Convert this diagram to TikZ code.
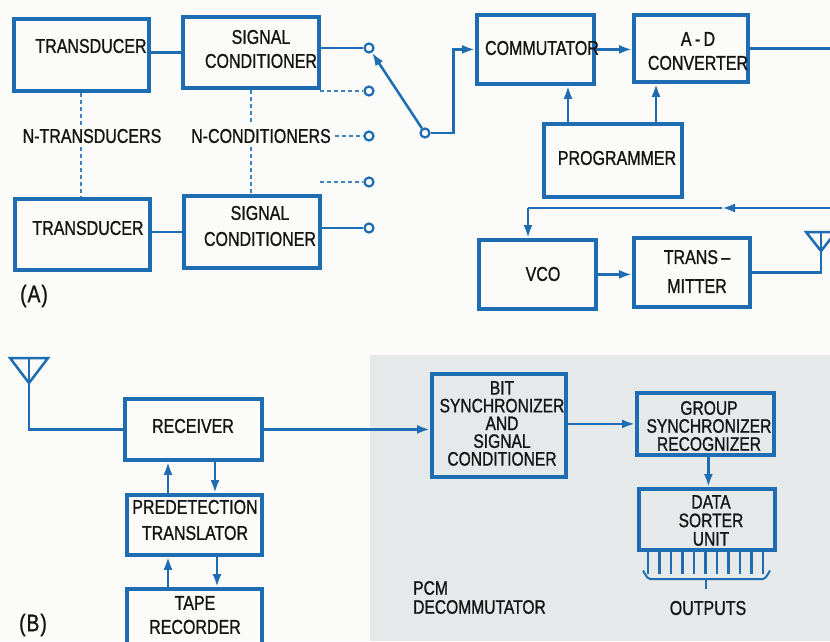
\documentclass[tikz,border=0pt]{standalone}
\usepackage{fontspec}
\setmainfont{Liberation Sans}[FakeStretch=0.8,FakeBold=1]
\usetikzlibrary{arrows.meta,calc}
\definecolor{ln}{RGB}{30,108,178}
\definecolor{txt}{RGB}{20,20,20}
\definecolor{bg}{RGB}{251,251,249}
\definecolor{panel}{RGB}{229,233,233}
\tikzset{
  box/.style={draw=ln, line width=3.8pt, rectangle, inner sep=0pt, anchor=north west},
  lbl/.style={text=txt, font=\fontsize{20}{23}\selectfont, align=center, inner sep=0pt},
  conn/.style={draw=ln, line width=2.5pt},
  arr/.style={conn, -{Latex[length=13pt,width=9pt]}},
  dsh/.style={draw=ln!85, line width=2pt, dash pattern=on 4pt off 3pt},
  term/.style={circle, draw=ln, line width=2.2pt, fill=bg, minimum size=9pt, inner sep=0pt},
  stub/.style={draw=ln, line width=2.4pt},
  big/.style={text=txt, font=\fontsize{24}{26}\selectfont, inner sep=0pt}
}
\newcommand\mybox[5]{\node[box,minimum width={(#4-#2)*1pt},minimum height={(#5-#3)*1pt}] (#1) at (#2,#3) {};}
\begin{document}
\begin{tikzpicture}[x=1pt,y=-1pt]
\useasboundingbox (0,0) rectangle (830,641);
\clip (0,0) rectangle (830,641);
\fill[bg] (0,0) rectangle (830,641);
\fill[panel] (370,355) rectangle (830,641);

% ---------- Part A boxes ----------
\mybox{td1}{12}{17}{147}{89}
\mybox{sc1}{181}{15}{317}{86}
\mybox{td2}{13}{197}{148}{268}
\mybox{sc2}{182}{194}{318}{266}
\mybox{com}{475}{13}{592}{82}
\mybox{adc}{632}{13}{746}{80}
\mybox{prg}{542}{122}{680}{195}
\mybox{vco}{477}{238}{594}{307}
\mybox{tx}{632}{236}{748}{305}

% ---------- Part B boxes ----------
\mybox{rcv}{123}{397}{260}{458}
\mybox{pdt}{125}{493}{260}{553}
\mybox{tape}{125}{587}{260}{660}
\mybox{bit}{430}{372}{564}{475}
\mybox{grp}{635}{391}{772}{453}
\mybox{dsu}{637}{487}{773}{548}

% ---------- labels A ----------
\node[lbl] (td1t) at (91,46) {TRANSDUCER};
\node[lbl,font=\fontsize{20}{24}\selectfont] (sc1t) at (261,49) {SIGNAL\\CONDITIONER};
\node[lbl,inner sep=4pt] (ntr) at (92,136) {N-TRANSDUCERS};
\node[lbl,inner sep=4pt] (ncd) at (261,136) {N-CONDITIONERS};
\node[lbl] (td2t) at (88,228) {TRANSDUCER};
\node[lbl,font=\fontsize{20}{26}\selectfont] (sc2t) at (260,226) {SIGNAL\\CONDITIONER};
\node[big] (la) at (34,296) {(\kern1pt A\kern1pt)};
\node[lbl] (comt) at (542,48) {COMMUTATOR};
\node[lbl,font=\fontsize{20}{24}\selectfont] (adct) at (698,51) {A\,-\,D\\CONVERTER};
\node[lbl] (prgt) at (617,158) {PROGRAMMER};
\node[lbl] (vcot) at (543,274) {VCO};
\node[lbl,font=\fontsize{20}{29}\selectfont] (txt) at (697,271.5) {TRANS\,--\\MITTER};

% ---------- labels B ----------
\node[lbl] (rcvt) at (193,426) {RECEIVER};
\node[lbl,font=\fontsize{20}{26}\selectfont] (pdtt) at (195,520) {PREDETECTION\\TRANSLATOR};
\node[lbl,font=\fontsize{20}{24}\selectfont] (tapet) at (195,615) {TAPE\\RECORDER};
\node[big] (lb) at (33,625) {(\kern1pt B\kern1pt)};
\node[lbl,font=\fontsize{19.5}{17.75}\selectfont] (bitt) at (502,423.5) {BIT\\SYNCHRONIZER\\AND\\SIGNAL\\CONDITIONER};
\node[lbl,font=\fontsize{19.5}{18}\selectfont] (grpt) at (709,426) {GROUP\\SYNCHRONIZER\\RECOGNIZER};
\node[lbl,font=\fontsize{19.5}{18.5}\selectfont] (dsut) at (711,520.5) {DATA\\SORTER\\UNIT};
\node[lbl,font=\fontsize{19.5}{19}\selectfont,align=left,anchor=west] (pcmt) at (413,597.5) {PCM\\DECOMMUTATOR};
\node[lbl] (outt) at (708,608) {OUTPUTS};

% ---------- Part A connectors ----------
\node[term] (c1) at (369,48) {};
\node[term] (c2) at (369,91) {};
\node[term] (c3) at (369,136) {};
\node[term] (c4) at (369,182) {};
\node[term] (c5) at (369,228) {};
\node[term] (pole) at (425,133) {};
\coordinate (d2) at (320,91);
\coordinate (d4) at (320,182);

\draw[conn] (sc1.west -| td1.east) -- (sc1.west);
\draw[conn] (sc2.west -| td2.east) -- (sc2.west);
\draw[conn] (sc1.east |- c1) -- (c1);
\draw[conn] (sc2.east |- c5) -- (c5);
\draw[dsh] (d2) -- (c2);
\draw[dsh] (ncd.east) -- (c3);
\draw[dsh] (d4) -- (c4);
\draw[dsh] (td1.south) -- (ntr.north -| td1.south);
\draw[dsh] (ntr.south -| td1.south) -- (td1.south |- td2.north);
\draw[dsh] (sc1.south) -- (ncd.north -| sc1.south);
\draw[dsh] (ncd.south -| sc1.south) -- (sc1.south |- sc2.north);

\draw[arr] (pole) -- (c1);
\draw[arr] (pole.east) -- ++(23,0) |- (com.west);
\draw[arr] (com.east) -- (com.east -| adc.west);
\draw[arr] ($(prg.north west)+(26,0)$) coordinate (p1) -- (p1 |- com.south);
\draw[arr] ($(prg.north west)+(114,0)$) coordinate (p2) -- (p2 |- adc.south);
\coordinate (adout) at (830,45);
\draw[conn] (adc.east) -- (adc.east -| adout);
\coordinate (retin) at (830,208);
\coordinate (retmid) at (722,208);
\coordinate (retcorner) at (528,208);
\draw[arr] (retin) -- (retmid);
\draw[conn] (retmid) -- (retcorner);
\draw[arr] (retcorner) -- (retcorner |- vco.north);
\draw[arr] (vco.east) -- (vco.east -| tx.west);

% transmitter antenna
\coordinate (ant1) at (821,251);
\draw[conn, line join=miter] (806,232) -- (836,232) -- (ant1) -- cycle;
\draw[conn] (ant1) -- (821,232);
\draw[conn] (tx.east) -| (ant1);

% ---------- Part B connectors ----------
\coordinate (ant2) at (29,383);
\draw[conn, line join=miter] (10,358) -- (48,358) -- (ant2) -- cycle;
\draw[conn] (ant2) -- (29,358);
\draw[conn] (ant2) |- (rcv.west);
\draw[arr] (rcv.east) -- (rcv.east -| bit.west);
\draw[arr] ($(pdt.north west)+(43,0)$) coordinate (u1) -- (u1 |- rcv.south);
\draw[arr] ($(rcv.south west)+(92,0)$) coordinate (v1) -- (v1 |- pdt.north);
\draw[arr] ($(tape.north west)+(43,0)$) coordinate (u2) -- (u2 |- pdt.south);
\draw[arr] ($(pdt.south west)+(92,0)$) coordinate (v2) -- (v2 |- tape.north);
\draw[arr] (bit.east |- grp.west) -- (grp.west);
\draw[arr] ($(grp.south)+(3,0)$) coordinate (g1) -- (g1 |- dsu.north);

% outputs
\foreach \i in {0,...,10}
  \draw[stub] ($(dsu.south west)+(11+\i*11.5,0)$) -- ++(0,22);
\coordinate (brl) at (643,572);
\coordinate (brr) at (770,572);
\coordinate (brc) at (706,579);
\draw[draw=ln, line width=2pt] (brl) to[out=90,in=180] (650,579) -- (763,579) to[out=0,in=90] (brr);
\draw[draw=ln, line width=2pt] (brc) -- ++(0,10);
\end{tikzpicture}
\end{document}
